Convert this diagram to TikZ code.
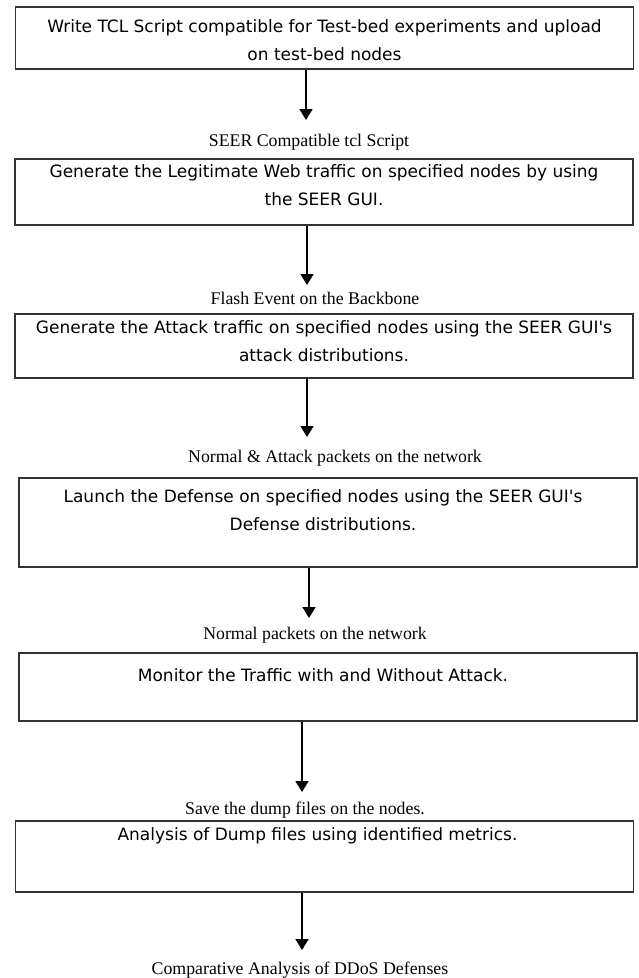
\documentclass[tikz,border=0pt]{standalone}
\usepackage{fontspec}
\setmainfont{Liberation Serif}
\newfontfamily\boxfont{DejaVu Sans}
\usetikzlibrary{positioning,arrows.meta}
\tikzset{
    box/.style={draw=black!80, line width=1.5pt, rectangle, minimum width=618pt, inner sep=0pt},
    boxtext/.style={inner sep=0pt, align=center, font=\boxfont\fontsize{17}{28}\selectfont},
    flowlabel/.style={inner sep=0pt, font=\fontsize{17.8}{20}\selectfont},
    flow/.style={line width=1.6pt, -{Triangle[width=13pt,length=11pt]}}
}
\begin{document}
\begin{tikzpicture}[x=1pt, y=-1pt]
        \useasboundingbox (0, 0) rectangle (639, 978);
        \node[box, minimum height=62pt] (box1) at (324.5, 38){};
            \node[boxtext, below=13pt of box1.north] (txt1){Write TCL Script compatible for Test-bed experiments and upload\\on test-bed nodes};
        \node[box, minimum height=66pt] (box2) at (324, 192){};
            \node[boxtext, below=6pt of box2.north] (txt2){Generate the Legitimate Web traffic on specified nodes by using\\the SEER GUI.};
        \node[box, minimum height=64pt] (box3) at (324, 346){};
            \node[boxtext, below=7pt of box3.north] (txt3){Generate the Attack traffic on specified nodes using the SEER GUI's\\attack distributions.};
        \node[box, minimum height=89pt] (box4) at (328, 522.5){};
            \node[boxtext, below=12pt of box4.north, xshift=-5pt] (txt4){Launch the Defense on specified nodes using the SEER GUI's\\Defense distributions.};
        \node[box, minimum height=68pt] (box5) at (328, 687){};
            \node[boxtext, below=16pt of box5.north, xshift=-5pt] (txt5){Monitor the Traffic with and Without Attack.};
        \node[box, minimum height=71pt] (box6) at (324.5, 856.5){};
            \node[boxtext, below=7pt of box6.north, xshift=-7pt] (txt6){Analysis of Dump files using identified metrics.};

        \node[flowlabel] (lbl1) at (309, 142){SEER Compatible tcl Script};
        \node[flowlabel] (lbl2) at (315, 298){Flash Event on the Backbone};
        \node[flowlabel] (lbl3) at (335, 458){Normal \& Attack packets on the network};
        \node[flowlabel] (lbl4) at (315, 635){Normal packets on the network};
        \node[flowlabel] (lbl5) at (305, 810){Save the dump files on the nodes.};
        \node[flowlabel] (lbl6) at (300, 970){Comparative Analysis of DDoS Defenses};

        \coordinate (tip1) at (306, 120);
        \coordinate (tip2) at (307, 285);
        \coordinate (tip3) at (307, 437);
        \coordinate (tip4) at (309, 618);
        \coordinate (tip5) at (302, 792);
        \coordinate (tip6) at (302, 950);
        \draw[flow] (box1.south -| tip1) to (tip1);
        \draw[flow] (box2.south -| tip2) to (tip2);
        \draw[flow] (box3.south -| tip3) to (tip3);
        \draw[flow] (box4.south -| tip4) to (tip4);
        \draw[flow] (box5.south -| tip5) to (tip5);
        \draw[flow] (box6.south -| tip6) to (tip6);
    \end{tikzpicture}
\end{document}
